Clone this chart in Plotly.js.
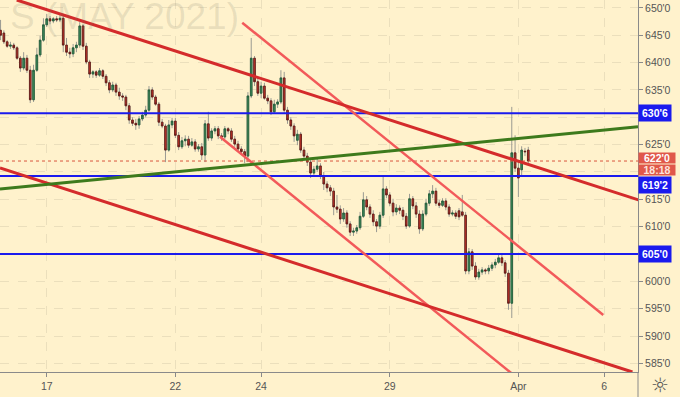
<!DOCTYPE html>
<html>
<head>
<meta charset="utf-8">
<script src="https://cdn.plot.ly/plotly-3.0.1.min.js"></script>
<style>
html,body{margin:0;padding:0;background:#FFF2CC;}
#chart{width:680px;height:397px;}
</style>
</head>
<body>
<div id="chart"></div>
<script>
// ---- data ----
const open = [645.9,645.4,643.8,643.0,643.2,642.7,640.8,639.0,640.8,638.6,633.2,638.6,641.4,644.1,646.9,648.0,647.6,648.0,647.8,648.1,
643.2,641.9,641.6,642.7,643.2,646.7,643.0,640.1,637.9,638.3,637.7,638.5,637.5,636.3,635.0,635.9,634.6,633.9,633.7,632.1,
629.5,628.9,628.6,629.7,630.4,631.3,635.0,633.7,632.4,629.1,628.4,624.0,628.6,629.3,626.7,624.6,625.7,626.0,624.9,625.5,
624.2,624.6,623.1,628.8,626.2,627.5,627.9,626.6,626.4,627.9,627.5,626.0,625.1,624.2,623.7,622.9,633.9,640.8,636.5,634.4,
635.7,633.5,633.0,631.0,632.4,632.8,637.2,631.3,629.5,628.4,625.8,626.9,624.0,622.9,621.8,619.8,620.5,621.1,619.3,617.8,
617.1,616.5,613.6,613.2,611.4,612.5,610.5,609.0,609.2,609.8,611.9,614.9,613.6,612.3,610.9,610.1,612.1,616.9,615.8,614.3,
612.7,613.4,613.0,611.9,610.1,615.1,613.8,612.3,609.6,612.3,614.3,616.0,616.5,614.3,613.9,614.7,613.6,612.3,612.5,612.9,
612.7,612.1,601.9,605.4,602.8,600.8,601.7,602.1,601.9,602.4,603.0,603.5,604.3,603.4,601.5,596.0,623.5,620.7,620.4,623.8,
624.0];
const high = [647.8,645.9,644.1,643.8,643.6,643.0,641.2,641.9,641.4,639.4,639.6,642.7,644.9,648.1,648.9,648.5,648.3,648.5,648.7,648.5,
644.5,642.7,643.4,643.8,647.4,647.0,643.6,640.5,638.6,638.6,639.0,638.8,637.9,636.8,636.5,636.3,635.4,634.4,634.1,632.6,
630.0,629.7,630.2,631.0,632.1,635.7,635.5,634.1,632.8,629.7,628.8,629.5,629.9,629.9,627.3,626.4,626.7,626.6,626.2,626.0,
625.1,625.3,629.5,631.0,628.0,628.4,628.4,627.1,628.4,628.2,628.0,626.6,625.7,624.7,624.2,634.6,644.5,641.2,637.2,636.5,
636.3,634.1,633.5,633.2,633.3,638.6,638.3,631.9,630.0,628.9,627.7,627.3,624.6,623.5,622.4,621.1,622.5,621.6,620.0,618.3,
617.6,617.1,615.8,613.9,613.4,613.0,611.0,609.8,610.3,612.7,616.3,615.6,614.1,613.0,611.4,612.7,619.1,617.4,616.3,615.1,
614.1,613.9,613.6,612.5,616.0,615.6,614.5,613.0,613.0,615.1,616.7,617.6,617.1,614.9,615.2,615.2,614.1,613.0,613.0,613.4,
615.8,612.7,606.1,605.9,603.5,602.3,602.6,602.4,603.0,603.5,604.1,605.0,604.8,603.9,602.1,631.9,626.7,621.8,624.7,624.4,
624.6];
const low = [644.1,643.4,642.7,642.5,642.3,640.5,638.3,638.6,638.1,632.6,632.8,638.3,641.0,643.8,646.5,647.0,647.2,647.4,647.4,641.9,
641.2,640.8,641.0,641.9,642.7,642.3,639.7,637.2,637.2,637.2,637.4,637.0,635.7,634.4,634.6,633.9,633.2,633.0,631.3,628.8,
628.4,627.7,627.9,629.3,630.0,631.0,633.2,632.1,628.4,628.0,621.8,623.7,628.0,626.2,624.0,624.2,624.7,624.4,624.6,623.7,
623.7,622.2,621.8,625.7,625.7,626.9,626.0,625.7,626.0,626.9,625.5,624.6,623.7,623.1,621.6,621.8,633.5,635.7,633.9,633.5,
633.2,632.4,630.4,630.6,631.7,632.4,630.8,628.8,627.7,625.5,624.9,623.5,622.2,621.1,618.9,619.3,620.0,618.7,616.7,616.3,
615.6,612.1,612.5,610.5,610.9,609.8,608.3,608.3,608.7,609.4,611.6,613.0,611.6,610.1,609.0,609.6,611.6,615.2,613.8,611.9,
612.1,612.3,611.2,609.6,609.8,613.2,611.6,608.7,609.2,611.9,613.8,615.2,613.8,613.4,613.6,613.0,611.8,611.9,611.4,611.2,
611.8,601.3,601.3,602.1,600.3,600.3,601.2,601.3,601.3,601.9,602.4,603.2,602.8,600.8,594.8,593.3,620.0,615.4,619.4,622.9,
621.3];
const close = [645.0,643.8,643.0,643.2,642.7,640.8,639.0,640.8,638.6,633.2,638.6,641.4,644.1,646.9,648.0,647.6,648.0,647.8,648.1,643.2,
641.9,641.6,642.7,643.2,646.7,643.0,640.1,637.9,638.3,637.7,638.5,637.5,636.3,635.0,635.9,634.6,633.9,633.7,632.1,629.5,
628.9,628.6,629.7,630.4,631.3,635.0,633.7,632.4,629.1,628.4,624.0,628.6,629.3,626.7,624.6,625.7,626.0,624.9,625.5,624.2,
624.6,623.1,628.8,626.2,627.5,627.9,626.6,626.4,627.9,627.5,626.0,625.1,624.2,623.7,622.9,633.9,640.8,636.5,634.4,635.7,
633.5,633.0,631.0,632.4,632.8,637.2,631.3,629.5,628.4,626.6,626.9,624.0,622.9,621.8,619.8,620.5,621.1,619.3,617.8,617.1,
616.5,613.6,613.2,611.4,612.5,610.5,609.0,609.2,609.8,611.9,614.9,613.6,612.3,610.9,610.1,612.1,616.9,615.8,614.3,612.7,
613.4,613.0,611.9,610.1,615.1,613.8,612.3,609.6,612.3,614.3,616.0,616.5,614.3,613.9,614.7,613.6,612.3,612.5,611.9,611.8,
612.1,601.9,605.4,602.8,600.8,601.7,602.1,601.9,602.4,603.0,603.5,604.3,603.4,601.5,596.0,623.5,620.7,618.9,624.0,623.7,
622.0];

const barsPerDay = 13;       // bars in one trading session
const firstBarOffset = 14;   // bars before the Mar 17 session start
const dayTickVals = [0, 3, 5, 8, 11, 13];
const dayTickText = ['17', '22', '24', '29', 'Apr', '6'];

const priceTicks = [585,590,595,600,605,610,615,620,625,630,635,640,645,650];
const hiddenTicks = [605, 620, 630];

const levelPrices = [630.75, 619.25, 605.0];
const levelText = ["630'6", "619'2", "605'0"];
const lastPrice = 622.0;
const lastPriceText = "622'0";
const countdownText = "18:18";
const watermarkText = "S (MAY 2021)";

// trend lines: [day0, price0, day1, price1]
const resistanceLine = [-0.70, 651.44, 13.80, 614.9];
const supportLine = [-1.09, 620.73, 13.66, 583.43];
const risingLine = [-1.09, 616.88, 13.79, 628.27];
const channelUpper = [4.56, 647.29, 12.98, 593.85];
const channelLower = [4.04, 626.45, 11.50, 579.0];

// ---- build ----
const barX = close.map((_, i) => (i - firstBarOffset) / barsPerDay);
const bodyHigh = close.map((c, i) => Math.max(c, open[i]));
const bodyLow = close.map((c, i) => Math.min(c, open[i]));

const wickColor = '#9a9a92';
const wicks = {
  type: 'candlestick', x: barX, open: open, high: high, low: low, close: close,
  increasing: {line: {color: wickColor, width: 1}, fillcolor: wickColor},
  decreasing: {line: {color: wickColor, width: 1}, fillcolor: wickColor},
  whiskerwidth: 0, hoverinfo: 'skip', showlegend: false
};
const bodies = {
  type: 'candlestick', x: barX, open: open, high: bodyHigh, low: bodyLow, close: close,
  increasing: {line: {color: '#1f5a36', width: 0.8}, fillcolor: '#3f8d5c'},
  decreasing: {line: {color: '#5a1712', width: 0.8}, fillcolor: '#c8352b'},
  whiskerwidth: 0, hoverinfo: 'skip', showlegend: false
};

function seg(a, color, width) {
  return {type: 'line', xref: 'x', yref: 'y', x0: a[0], y0: a[1], x1: a[2], y1: a[3],
          line: {color: color, width: width}};
}

const shapes = [];
levelPrices.forEach(p => shapes.push({type: 'line', xref: 'paper', yref: 'y', x0: 0, x1: 1, y0: p, y1: p,
  line: {color: '#1a1aee', width: 2}}));
shapes.push({type: 'line', xref: 'paper', yref: 'y', x0: 0, x1: 1, y0: lastPrice, y1: lastPrice,
  line: {color: '#d9563f', width: 1, dash: 'dot'}});
shapes.push(seg(channelUpper, '#f25a5a', 2.5));
shapes.push(seg(channelLower, '#f25a5a', 2.5));
shapes.push(seg(resistanceLine, '#d42b2b', 3));
shapes.push(seg(supportLine, '#d42b2b', 3));
shapes.push(seg(risingLine, '#3d7a1c', 3));
shapes.push({type: 'line', xref: 'paper', yref: 'paper', x0: 1, x1: 1, y0: -0.08, y1: 0,
  line: {color: '#8a8a8a', width: 1}});

const annotations = [];
annotations.push({xref: 'paper', yref: 'paper', x: 241/638, y: 1 - 17/372, xanchor: 'right', yanchor: 'middle',
  text: watermarkText, showarrow: false,
  font: {family: 'Liberation Sans, Arial, sans-serif', size: 37, color: 'rgba(120,115,100,0.16)'}});
const levelShift = [0, -9, 0];
levelPrices.forEach((p, k) => annotations.push({xref: 'paper', yref: 'y', x: 1, y: p, xanchor: 'left', yanchor: 'middle',
  yshift: levelShift[k], text: '<b>' + levelText[k] + '</b>', showarrow: false, bgcolor: '#1a1aee',
  borderpad: 2, width: 28,
  font: {family: 'Liberation Sans, Arial, sans-serif', size: 10.5, color: '#ffffff'}}));
annotations.push({xref: 'paper', yref: 'y', x: 1, y: lastPrice, xanchor: 'left', yanchor: 'bottom',
  yshift: -3, text: '<b>' + lastPriceText + '</b>', showarrow: false, bgcolor: '#e0584a',
  width: 36, height: 10, borderpad: 0,
  font: {family: 'Liberation Sans, Arial, sans-serif', size: 10.5, color: '#ffffff'}});
annotations.push({xref: 'paper', yref: 'y', x: 1, y: lastPrice, xanchor: 'left', yanchor: 'top',
  yshift: -3, text: '<b>' + countdownText + '</b>', showarrow: false, bgcolor: '#e0584a',
  width: 36, height: 10, borderpad: 0,
  font: {family: 'Liberation Sans, Arial, sans-serif', size: 10.5, color: '#fde3dd'}});
annotations.push({xref: 'paper', yref: 'paper', x: 1 + 22/638, y: -13/372, xanchor: 'center', yanchor: 'middle',
  text: '☼', showarrow: false, font: {family: 'DejaVu Sans', size: 20, color: '#555555'}});

const tickFont = {family: 'Liberation Sans, Arial, sans-serif', size: 10.5, color: '#555555'};
const layout = {
  width: 680, height: 397,
  margin: {l: 0, r: 42, t: 0, b: 25, pad: 0},
  paper_bgcolor: '#FFF2CC', plot_bgcolor: '#FFF2CC',
  showlegend: false, hovermode: false, dragmode: false,
  xaxis: {
    type: 'linear', range: [-1.09, 13.79], tickmode: 'array', tickvals: dayTickVals, ticktext: dayTickText,
    showgrid: true, gridcolor: 'rgba(0,0,0,0.08)', griddash: 'dash', zeroline: false,
    showline: true, linecolor: '#8a8a8a', linewidth: 1, ticks: 'outside', ticklen: 4, tickcolor: '#8a8a8a',
    tickfont: tickFont, rangeslider: {visible: false}, fixedrange: true
  },
  yaxis: {
    side: 'right', range: [583.43, 651.44], tickmode: 'array', tickvals: priceTicks,
    ticktext: priceTicks.map(p => hiddenTicks.includes(p) ? '' : p + "'0"),
    showgrid: true, gridcolor: 'rgba(0,0,0,0.08)', griddash: 'dash', zeroline: false,
    showline: true, linecolor: '#8a8a8a', linewidth: 1, ticks: 'outside', ticklen: 4, tickcolor: '#8a8a8a',
    tickfont: tickFont, fixedrange: true
  },
  shapes: shapes,
  annotations: annotations
};

Plotly.newPlot('chart', [wicks, bodies], layout, {displayModeBar: false, staticPlot: true});
</script>
</body>
</html>
